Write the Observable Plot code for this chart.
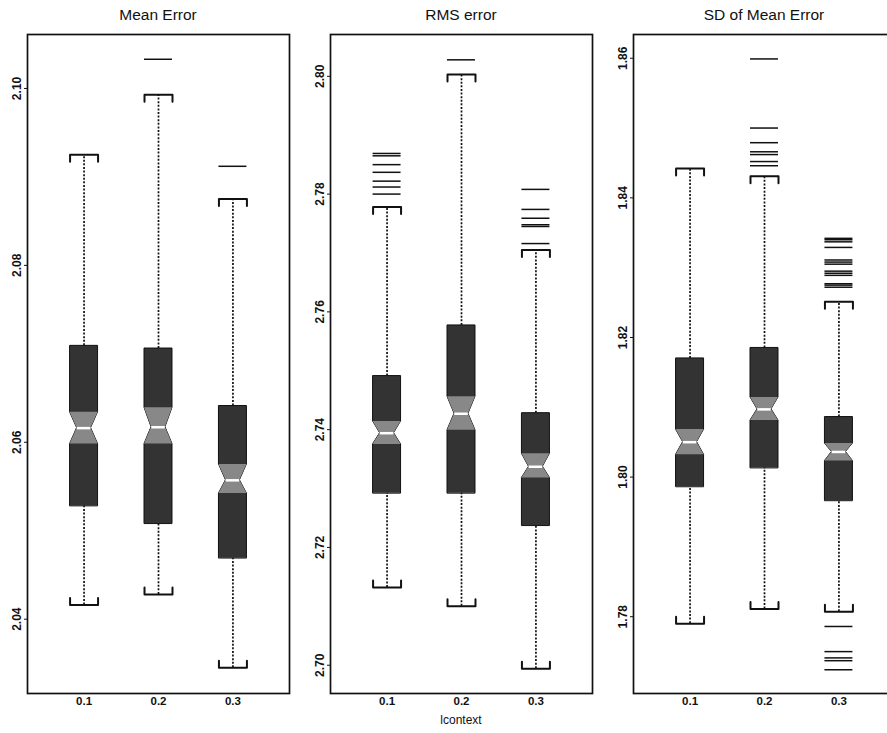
<!DOCTYPE html>
<html><head><meta charset="utf-8">
<script src="https://cdn.jsdelivr.net/npm/d3@7"></script>
<script src="https://cdn.jsdelivr.net/npm/@observablehq/plot@0.6"></script>
<style>
body{margin:0;background:#fff;font-family:"Liberation Sans",Arial,Helvetica,sans-serif;}
#wrap{position:relative;width:887px;height:733px;overflow:hidden;background:#fff;}
.panel{position:absolute;top:28px;width:303px;}
.panel svg{max-width:none !important;}
.title{position:absolute;top:6px;width:262px;text-align:center;font-size:15.5px;color:#111;}
.xlab{position:absolute;top:713px;width:262px;text-align:center;font-size:12px;color:#111;}
</style></head>
<body>
<div id="wrap"></div>
<script>
// ---- data ----
const categories = ["0.1", "0.2", "0.3"];
const titles = ["Mean Error", "RMS error", "SD of Mean Error"];
const xAxisLabel = "lcontext";

// Panel 1: Mean Error
const meanDomain = [2.0316, 2.1061];
const meanTicks = [2.04, 2.06, 2.08, 2.10];
const meanLow = [2.0416, 2.0428, 2.0345];
const meanQ1 = [2.0528, 2.0508, 2.0469];
const meanNotchLo = [2.0598, 2.0598, 2.0542];
const meanMedian = [2.0616, 2.0617, 2.0557];
const meanNotchHi = [2.0634, 2.0639, 2.0575];
const meanQ3 = [2.0709, 2.0706, 2.0641];
const meanHigh = [2.0925, 2.0993, 2.0875];
const meanOutliers = [[], [2.1033], [2.0912]];

// Panel 2: RMS error
const rmsDomain = [2.6952, 2.8071];
const rmsTicks = [2.70, 2.72, 2.74, 2.76, 2.78, 2.80];
const rmsLow = [2.7132, 2.7100, 2.6994];
const rmsQ1 = [2.7292, 2.7292, 2.7237];
const rmsNotchLo = [2.7375, 2.7399, 2.7318];
const rmsMedian = [2.7394, 2.7427, 2.7337];
const rmsNotchHi = [2.7414, 2.7456, 2.7359];
const rmsQ3 = [2.7491, 2.7577, 2.7428];
const rmsHigh = [2.7778, 2.8003, 2.7705];
const rmsOutliers = [
  [2.7869, 2.7865, 2.7850, 2.7837, 2.7822, 2.7812, 2.7800],
  [2.8028],
  [2.7808, 2.7774, 2.7759, 2.7748, 2.7745, 2.7716]
];

// Panel 3: SD of Mean Error
const sdDomain = [1.7690, 1.8634];
const sdTicks = [1.78, 1.80, 1.82, 1.84, 1.86];
const sdLow = [1.7790, 1.7811, 1.7807];
const sdQ1 = [1.7986, 1.8013, 1.7966];
const sdNotchLo = [1.8032, 1.8081, 1.8023];
const sdMedian = [1.8050, 1.8097, 1.8036];
const sdNotchHi = [1.8068, 1.8114, 1.8048];
const sdQ3 = [1.8170, 1.8185, 1.8086];
const sdHigh = [1.8442, 1.8431, 1.8251];
const sdOutliers = [
  [],
  [1.8599, 1.8500, 1.8479, 1.8466, 1.8462, 1.8452, 1.8446],
  [1.8342, 1.8340, 1.8337, 1.8329, 1.8311, 1.8308, 1.8305, 1.8295, 1.8292, 1.8289, 1.8277, 1.8275, 1.8272,
   1.7786, 1.7750, 1.7741, 1.7737, 1.7724]
];

// ---- drawing ----
const HW = 0.188;      // half box width in x units
const INNER_H = 659;
const MT = 6, MB = 40, ML = 27, MR = 14, INNER_W = 262;

function makePanel(p) {
  const boxes = categories.map((c, i) => ({
    x: i + 1, low: p.low[i], q1: p.q1[i], nlo: p.nlo[i], med: p.med[i],
    nhi: p.nhi[i], q3: p.q3[i], high: p.high[i]
  }));
  const shape = boxes.flatMap(b => [
    {k: b.x, y: b.q1, x1: b.x - HW, x2: b.x + HW},
    {k: b.x, y: b.nlo, x1: b.x - HW, x2: b.x + HW},
    {k: b.x, y: b.med, x1: b.x - HW / 2, x2: b.x + HW / 2},
    {k: b.x, y: b.nhi, x1: b.x - HW, x2: b.x + HW},
    {k: b.x, y: b.q3, x1: b.x - HW, x2: b.x + HW}
  ]);
  const notch = boxes.flatMap(b => [
    {k: b.x, y: b.nlo, x1: b.x - HW, x2: b.x + HW},
    {k: b.x, y: b.med, x1: b.x - HW / 2, x2: b.x + HW / 2},
    {k: b.x, y: b.nhi, x1: b.x - HW, x2: b.x + HW}
  ]);
  const leg = 7 * (p.domain[1] - p.domain[0]) / INNER_H;
  const caps = boxes.flatMap(b => [
    {id: b.x + "h", x: b.x - HW, y: b.high - leg},
    {id: b.x + "h", x: b.x - HW, y: b.high},
    {id: b.x + "h", x: b.x + HW, y: b.high},
    {id: b.x + "h", x: b.x + HW, y: b.high - leg},
    {id: b.x + "l", x: b.x - HW, y: b.low + leg},
    {id: b.x + "l", x: b.x - HW, y: b.low},
    {id: b.x + "l", x: b.x + HW, y: b.low},
    {id: b.x + "l", x: b.x + HW, y: b.low + leg}
  ]);
  const outs = p.outliers.flatMap((arr, i) => arr.map(v => ({x: i + 1, v})));

  return Plot.plot({
    width: ML + INNER_W + MR,
    height: MT + INNER_H + MB,
    marginTop: MT, marginBottom: MB, marginLeft: ML, marginRight: MR,
    style: {fontFamily: '"Liberation Sans", Arial, sans-serif', fontSize: "12px", color: "#111", background: "white", maxWidth: "none"},
    x: {domain: [0.24, 3.76]},
    y: {domain: p.domain},
    marks: [
      Plot.ruleX(boxes, {x: "x", y1: "q3", y2: "high", stroke: "#111", strokeWidth: 1.7, strokeDasharray: "2,1.6"}),
      Plot.ruleX(boxes, {x: "x", y1: "low", y2: "q1", stroke: "#111", strokeWidth: 1.7, strokeDasharray: "2,1.6"}),
      Plot.areaX(shape, {y: "y", x1: "x1", x2: "x2", z: "k", fill: "#333", stroke: "#111", strokeWidth: 1, curve: "linear"}),
      Plot.areaX(notch, {y: "y", x1: "x1", x2: "x2", z: "k", fill: "#888", curve: "linear"}),
      Plot.ruleY(boxes, {y: "med", x1: d => d.x - HW * 0.48, x2: d => d.x + HW * 0.48, stroke: "white", strokeWidth: 2.5}),
      Plot.line(caps, {x: "x", y: "y", z: "id", stroke: "#111", strokeWidth: 2}),
      Plot.ruleY(outs, {y: "v", x1: d => d.x - HW, x2: d => d.x + HW, stroke: "#111", strokeWidth: 1.5}),
      Plot.frame({stroke: "#111", strokeWidth: 1.7}),
      Plot.axisY({ticks: p.ticks, tickFormat: d3.format(".2f"), tickRotate: -90, tickSize: 3, tickPadding: 4, label: null, fontWeight: "bold", fontSize: 12}),
      Plot.axisX({ticks: [1, 2, 3], tickFormat: d => categories[d - 1], tickSize: 0, tickPadding: 3, label: null, fontWeight: "bold", fontSize: 11.5})
    ]
  });
}

const panels = [
  {domain: meanDomain, ticks: meanTicks, low: meanLow, q1: meanQ1, nlo: meanNotchLo, med: meanMedian, nhi: meanNotchHi, q3: meanQ3, high: meanHigh, outliers: meanOutliers},
  {domain: rmsDomain, ticks: rmsTicks, low: rmsLow, q1: rmsQ1, nlo: rmsNotchLo, med: rmsMedian, nhi: rmsNotchHi, q3: rmsQ3, high: rmsHigh, outliers: rmsOutliers},
  {domain: sdDomain, ticks: sdTicks, low: sdLow, q1: sdQ1, nlo: sdNotchLo, med: sdMedian, nhi: sdNotchHi, q3: sdQ3, high: sdHigh, outliers: sdOutliers}
];

const wrap = document.getElementById("wrap");
const lefts = [0, 303, 606];
panels.forEach((p, i) => {
  const div = document.createElement("div");
  div.className = "panel";
  div.style.left = lefts[i] + "px";
  div.appendChild(makePanel(p));
  wrap.appendChild(div);
  const t = document.createElement("div");
  t.className = "title";
  t.style.left = (lefts[i] + ML) + "px";
  t.textContent = titles[i];
  wrap.appendChild(t);
});
const xl = document.createElement("div");
xl.className = "xlab";
xl.style.left = (lefts[1] + ML) + "px";
xl.textContent = xAxisLabel;
wrap.appendChild(xl);
</script>
</body></html>
